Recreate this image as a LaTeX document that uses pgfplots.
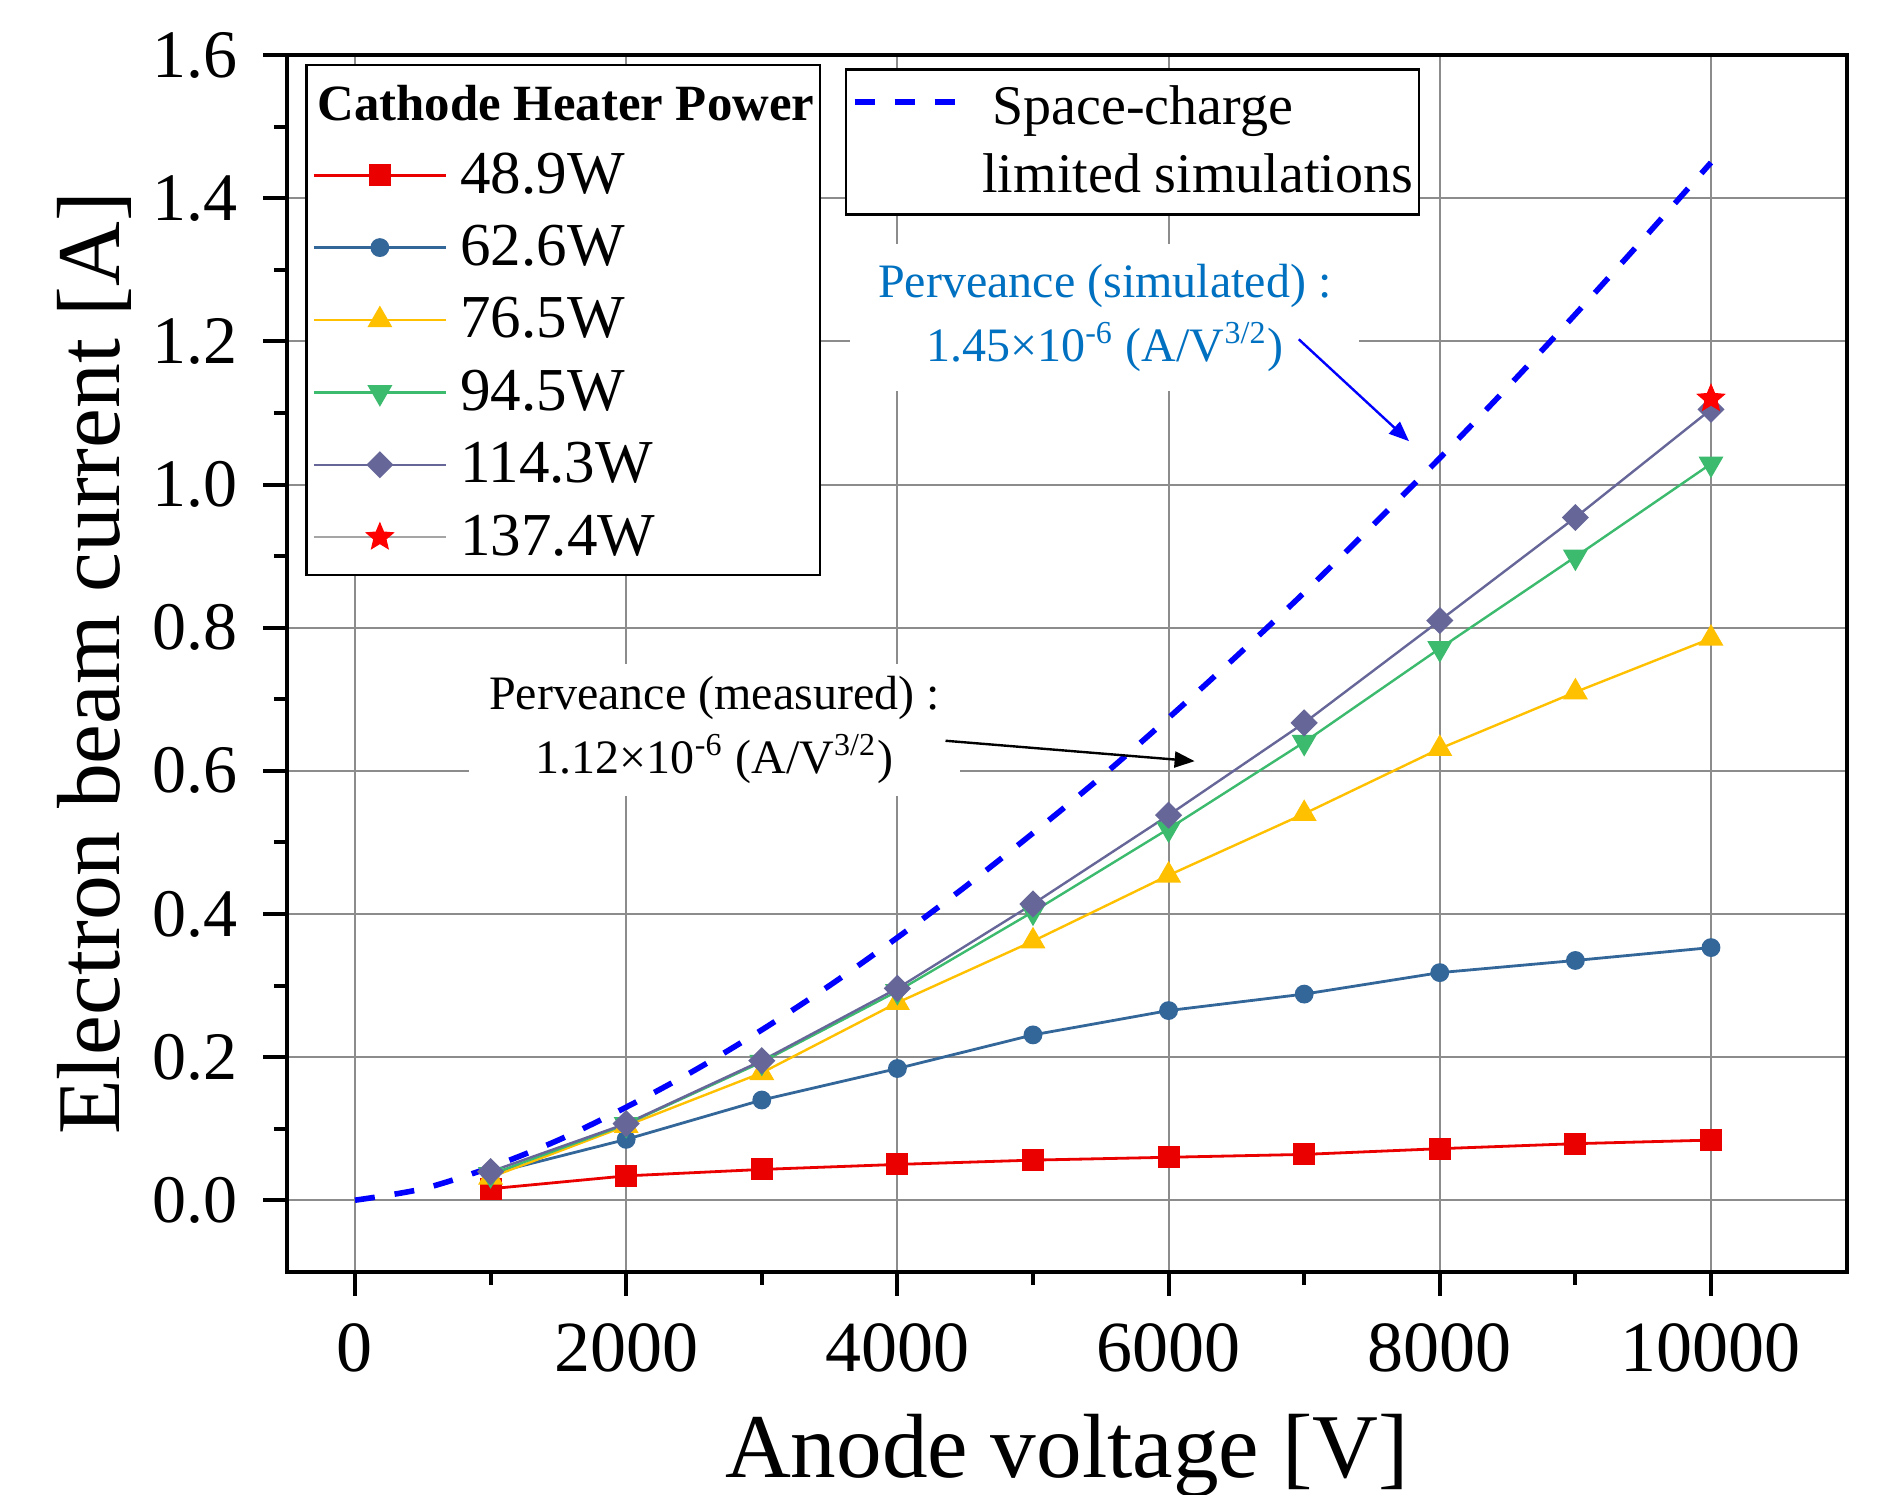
\documentclass[border=0pt]{standalone}
\usepackage{fontspec}
\setmainfont{Liberation Serif}
\usepackage{pgfplots}
\pgfplotsset{compat=1.18}
\usetikzlibrary{arrows.meta}

\definecolor{cRed}{RGB}{235,0,0}
\definecolor{cBlue}{RGB}{51,102,153}
\definecolor{cYel}{RGB}{255,192,0}
\definecolor{cGrn}{RGB}{60,186,110}
\definecolor{cPur}{RGB}{102,102,153}
\definecolor{cGry}{RGB}{165,165,165}
\definecolor{cSim}{RGB}{0,0,255}
\definecolor{cTxt}{RGB}{0,112,192}
\definecolor{cGrid}{RGB}{140,140,140}

% filled five-pointed star
\pgfdeclareplotmark{fstar}{%
  \pgfpathmoveto{\pgfpointpolar{90}{\pgfplotmarksize}}%
  \pgfpathlineto{\pgfpointpolar{126}{0.45*\pgfplotmarksize}}%
  \pgfpathlineto{\pgfpointpolar{162}{\pgfplotmarksize}}%
  \pgfpathlineto{\pgfpointpolar{198}{0.45*\pgfplotmarksize}}%
  \pgfpathlineto{\pgfpointpolar{234}{\pgfplotmarksize}}%
  \pgfpathlineto{\pgfpointpolar{270}{0.45*\pgfplotmarksize}}%
  \pgfpathlineto{\pgfpointpolar{306}{\pgfplotmarksize}}%
  \pgfpathlineto{\pgfpointpolar{342}{0.45*\pgfplotmarksize}}%
  \pgfpathlineto{\pgfpointpolar{18}{\pgfplotmarksize}}%
  \pgfpathlineto{\pgfpointpolar{54}{0.45*\pgfplotmarksize}}%
  \pgfpathclose\pgfusepathqfillstroke}

\begin{document}
\begin{tikzpicture}
\begin{axis}[
  at={(0,0)}, anchor=south west,
  scale only axis, width=389.85pt, height=304.15pt,
  xmin=-500, xmax=11000, ymin=-0.1, ymax=1.6,
  xtick={0,2000,4000,6000,8000,10000},
  minor xtick={1000,3000,5000,7000,9000},
  ytick={0,0.2,0.4,0.6,0.8,1.0,1.2,1.4,1.6},
  minor ytick={0.1,0.3,0.5,0.7,0.9,1.1,1.3,1.5},
  scaled x ticks=false,
  /pgf/number format/assume math mode=true,
  /pgf/number format/set thousands separator={},
  xtick pos=bottom, ytick pos=left,
  tick align=outside,
  major tick length=6pt, minor tick length=3.3pt,
  every tick/.style={black, line width=1pt},
  axis line style={line width=1pt},
  grid=major,
  major grid style={cGrid, line width=0.5pt},
  xticklabel style={font=\fontsize{18}{18}\selectfont, yshift=-3.5pt},
  yticklabel style={font=\fontsize{17}{17}\selectfont, xshift=-2.9pt,
    /pgf/number format/.cd, fixed, fixed zerofill, precision=1},
  xlabel={Anode voltage [V]},
  ylabel={Electron beam current [A]},
  xlabel style={font=\fontsize{22.8}{22.8}\selectfont,
    at={(axis description cs:0.5,-0.1693)}, anchor=base},
  ylabel style={font=\fontsize{22.4}{22.4}\selectfont,
    at={(axis description cs:-0.1074,0.5)}, anchor=base},
  legend cell align=left,
  legend image code/.code={\draw[mark repeat=2,mark phase=2,#1] plot coordinates {(0pt,0pt) (16.5pt,0pt) (33pt,0pt)};},
  legend style={at={(0.0116,0.9931)}, anchor=north west, draw=black,
    line width=0.6pt, fill=white, inner xsep=1.5pt, inner ysep=3pt,
    row sep=5.1pt, font=\fontsize{15.25}{16}\selectfont,
    nodes={inner sep=0pt, text height=11pt, text depth=2pt},
    /tikz/every odd column/.append style={column sep=3.3pt}},
]
% space-charge limited simulation
\addplot[cSim, line width=1.4pt, dash pattern=on 5pt off 5pt, smooth, forget plot] coordinates {
  (0,0.000) (500,0.016) (1000,0.046) (1500,0.084) (2000,0.130) (2500,0.181)
  (3000,0.238) (3500,0.300) (4000,0.367) (4500,0.438) (5000,0.513)
  (5500,0.591) (6000,0.674) (6500,0.760) (7000,0.849) (7500,0.942)
  (8000,1.037) (8500,1.136) (9000,1.238) (9500,1.343) (10000,1.450)
};

\addlegendimage{empty legend}
\addlegendentry{\hspace*{-35.7pt}\fontsize{12.7}{13}\selectfont\bfseries Cathode Heater Power}

\addplot[cRed, line width=0.7pt, mark=square*, mark size=2.4pt, mark options={solid}] coordinates {
  (1000,0.016) (2000,0.034) (3000,0.043) (4000,0.050) (5000,0.056)
  (6000,0.060) (7000,0.064) (8000,0.072) (9000,0.079) (10000,0.084)
};
\addlegendentry{48.9W}

\addplot[cBlue, line width=0.7pt, mark=*, mark size=2pt, mark options={solid}] coordinates {
  (1000,0.037) (2000,0.085) (3000,0.140) (4000,0.184) (5000,0.231)
  (6000,0.265) (7000,0.288) (8000,0.318) (9000,0.335) (10000,0.353)
};
\addlegendentry{62.6W}

\addplot[cYel, line width=0.6pt, mark=triangle*, mark size=3pt, mark options={solid}] coordinates {
  (1000,0.032) (2000,0.104) (3000,0.178) (4000,0.276) (5000,0.362)
  (6000,0.454) (7000,0.540) (8000,0.631) (9000,0.710) (10000,0.785)
};
\addlegendentry{76.5W}

\addplot[cGrn, line width=0.6pt, mark=triangle*, mark size=3pt, mark options={solid, rotate=180}] coordinates {
  (1000,0.036) (2000,0.106) (3000,0.193) (4000,0.292) (5000,0.403)
  (6000,0.519) (7000,0.640) (8000,0.771) (9000,0.899) (10000,1.029)
};
\addlegendentry{94.5W}

\addplot[cPur, line width=0.6pt, mark=square*, mark size=2.1pt, mark options={solid, rotate=45}] coordinates {
  (1000,0.040) (2000,0.107) (3000,0.195) (4000,0.296) (5000,0.414)
  (6000,0.538) (7000,0.667) (8000,0.810) (9000,0.954) (10000,1.105)
};
\addlegendentry{114.3W}

\addplot[cGry, line width=0.6pt, mark=fstar, mark size=3.5pt, mark options={solid, fill=red, draw=red, line width=0.3pt}] coordinates {
  (10000,1.120)
};
\addlegendentry{137.4W}

\node[fill=white, inner xsep=5pt, inner ysep=3pt, align=center,
  font=\fontsize{12}{15.9}\selectfont] at (axis cs:2651,0.657)
  {Perveance (measured) :\\1.12×10\textsuperscript{-6} (A/V\textsuperscript{3/2})};
\draw[black, line width=0.6pt, -{Triangle[length=5pt,width=4pt]}]
  (axis cs:4355,0.642) -- (axis cs:6192,0.6135);

\node[fill=white, inner xsep=7pt, inner ysep=5pt, align=center, text=cTxt,
  font=\fontsize{12}{15.9}\selectfont] at (axis cs:5530,1.233)
  {Perveance (simulated) :\\1.45×10\textsuperscript{-6} (A/V\textsuperscript{3/2})};
\draw[cSim, line width=0.6pt, -{Triangle[length=5pt,width=4pt]}]
  (axis cs:6960,1.203) -- (axis cs:7773,1.0606);
\end{axis}

% second legend (simulation)
\begin{axis}[
  at={(0,0)}, anchor=south west,
  scale only axis, width=389.85pt, height=304.15pt,
  xmin=-500, xmax=11000, ymin=-0.1, ymax=1.6,
  hide axis,
  legend cell align=left,
  legend image code/.code={\draw[#1] (0pt,10pt) -- (26pt,10pt);},
  legend style={at={(0.3574,0.9891)}, anchor=north west, draw=black,
    line width=0.6pt, fill=white, inner xsep=1.5pt, inner ysep=4pt,
    font=\fontsize{14}{17}\selectfont, nodes={inner sep=0pt},
    /tikz/every odd column/.append style={column sep=5.25pt}},
]
\addlegendimage{cSim, line width=1.4pt, dash pattern=on 5pt off 5pt}
\addlegendentry[align=left]{\hspace*{2.5pt}Space-charge\\limited simulations}
\end{axis}

\pgfresetboundingbox
\useasboundingbox (-71.8pt,-55.8pt) rectangle (397.95pt,317.95pt);
\end{tikzpicture}
\end{document}
